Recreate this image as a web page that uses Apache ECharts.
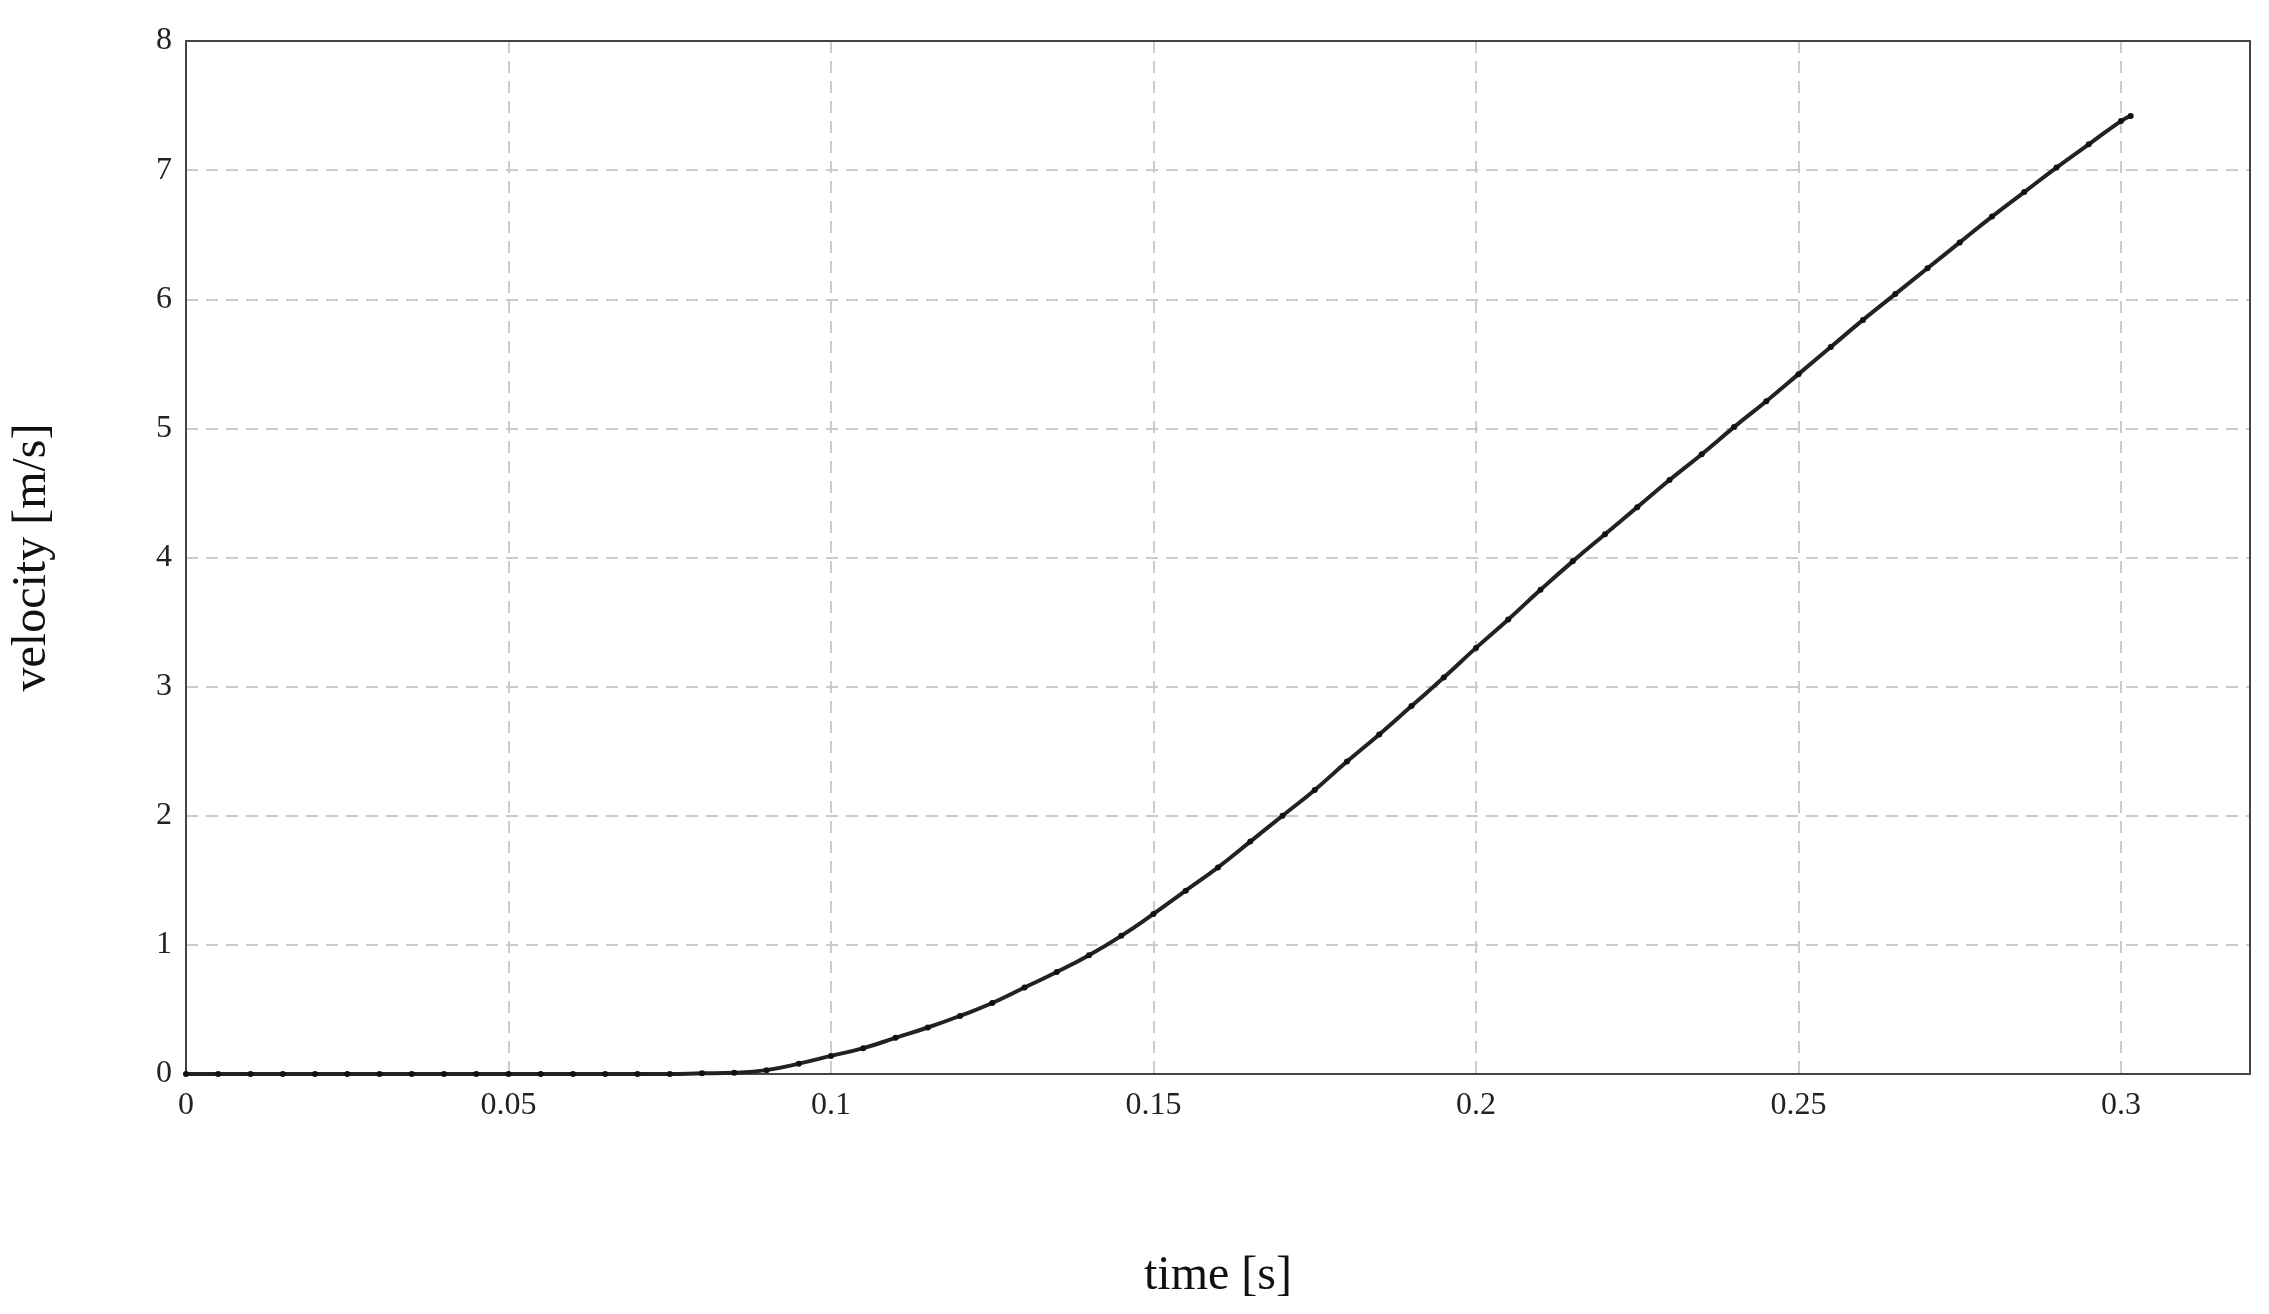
<!DOCTYPE html>
<html>
<head>
<meta charset="utf-8">
<script src="https://cdn.jsdelivr.net/npm/echarts@6/dist/echarts.min.js"></script>
<style>html,body{margin:0;background:#fff}#main{width:2269px;height:1314px}</style>
</head>
<body>
<div id="main"></div>
<script>
// time [s] and velocity [m/s]
var times = [0, 0.005, 0.01, 0.015, 0.02, 0.025, 0.03, 0.035, 0.04, 0.045, 0.05, 0.055, 0.06, 0.065, 0.07, 0.075, 0.08, 0.085,
  0.09, 0.095, 0.1, 0.105, 0.11, 0.115, 0.12, 0.125, 0.13, 0.135, 0.14, 0.145, 0.15, 0.155, 0.16, 0.165, 0.17, 0.175,
  0.18, 0.185, 0.19, 0.195, 0.2, 0.205, 0.21, 0.215, 0.22, 0.225, 0.23, 0.235, 0.24, 0.245, 0.25, 0.255, 0.26, 0.265,
  0.27, 0.275, 0.28, 0.285, 0.29, 0.295, 0.3, 0.3015];
var velocity = [0, 0, 0, 0, 0, 0, 0, 0, 0, 0, 0, 0, 0, 0, 0, 0, 0.005, 0.01,
  0.03, 0.08, 0.14, 0.2, 0.28, 0.36, 0.45, 0.55, 0.67, 0.79, 0.92, 1.07, 1.24, 1.42, 1.6, 1.8, 2.0, 2.2,
  2.42, 2.63, 2.85, 3.07, 3.3, 3.52, 3.75, 3.97, 4.18, 4.39, 4.6, 4.8, 5.01, 5.21, 5.42, 5.63, 5.84, 6.04,
  6.24, 6.44, 6.64, 6.83, 7.02, 7.2, 7.38, 7.42];
var xTicks = [0, 0.05, 0.1, 0.15, 0.2, 0.25, 0.3];

var points = [];
for (var i = 0; i < times.length; i++) {
    points.push([times[i], velocity[i]]);
}

var font = 'Liberation Serif';
var frame = {show: true, onZero: false, lineStyle: {color: '#444', width: 2}};
var chart = echarts.init(document.getElementById('main'));
var option = {
    animation: false,
    grid: {left: 186, right: 19, top: 41, bottom: 240},
    xAxis: [{
        type: 'value', min: 0, max: 0.32, interval: 0.05,
        name: 'time [s]', nameLocation: 'middle', nameGap: 178,
        nameTextStyle: {fontFamily: font, fontSize: 48, color: '#111'},
        axisLine: frame,
        axisTick: {show: false},
        axisLabel: {
            fontFamily: font, fontSize: 32, color: '#222', margin: 16,
            formatter: function (v) { return xTicks.indexOf(+v.toFixed(2)) >= 0 ? String(+v.toFixed(2)) : ''; }
        },
        splitLine: {lineStyle: {type: [12, 8], color: '#ccc', width: 2}}
    }, {
        type: 'value', min: 0, max: 0.32, position: 'top',
        axisLine: frame, axisTick: {show: false}, axisLabel: {show: false}, splitLine: {show: false}
    }],
    yAxis: [{
        type: 'value', min: 0, max: 8, interval: 1,
        name: 'velocity [m/s]', nameLocation: 'middle', nameGap: 130,
        nameTextStyle: {fontFamily: font, fontSize: 48, color: '#111'},
        axisLine: frame,
        axisTick: {show: false},
        axisLabel: {fontFamily: font, fontSize: 32, color: '#222', margin: 14},
        splitLine: {lineStyle: {type: [12, 8], color: '#ccc', width: 2}}
    }, {
        type: 'value', min: 0, max: 8, position: 'right',
        axisLine: frame, axisTick: {show: false}, axisLabel: {show: false}, splitLine: {show: false}
    }],
    series: [{
        type: 'line',
        data: points,
        smooth: true,
        symbol: 'circle',
        symbolSize: 6,
        itemStyle: {color: '#111'},
        lineStyle: {color: '#222', width: 4}
    }]
};
chart.setOption(option);
</script>
</body>
</html>
